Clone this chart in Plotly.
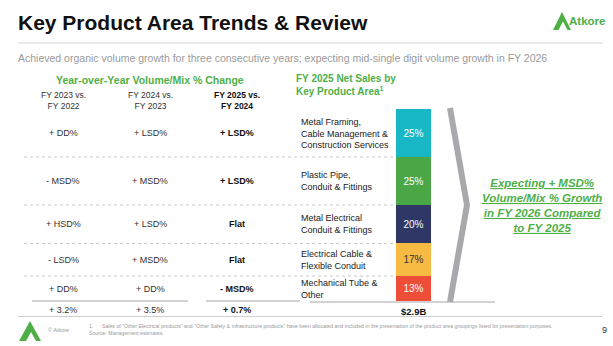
import plotly.graph_objects as go

# ---------------- data ----------------
areas = [
    "Metal Framing,<br>Cable Management &<br>Construction Services",
    "Plastic Pipe,<br>Conduit & Fittings",
    "Metal Electrical<br>Conduit & Fittings",
    "Electrical Cable &<br>Flexible Conduit",
    "Mechanical Tube &<br>Other",
]
shares = [25, 25, 20, 17, 13]
colors = ["#17B7C6", "#4BA646", "#2E3766", "#F7BA43", "#EE4D37"]
label_colors = ["white", "white", "white", "#333333", "white"]

col_headers = ["FY 2023 vs.<br>FY 2022", "FY 2024 vs.<br>FY 2023", "<b>FY 2025 vs.<br>FY 2024</b>"]
fy23 = ["+ DD%", "- MSD%", "+ HSD%", "- LSD%", "+ DD%"]
fy24 = ["+ LSD%", "+ MSD%", "+ LSD%", "+ MSD%", "+ DD%"]
fy25 = ["+ LSD%", "+ LSD%", "Flat", "Flat", "- MSD%"]
totals = ["+ 3.2%", "+ 3.5%", "<b>+ 0.7%</b>"]
total_sales = "$2.9B"

GREEN = "#4FAF47"
FONT = "Arial, Liberation Sans, sans-serif"
W, H = 613, 346

fig = go.Figure()

# stacked bar on its own axes
for name, s, c, lc in zip(areas, shares, colors, label_colors):
    fig.add_trace(go.Bar(
        x=[0], y=[s], xaxis="x2", yaxis="y2", width=1,
        marker=dict(color=c, line=dict(width=0)),
        text=[f"{s}%"], textposition="inside", insidetextanchor="middle",
        textangle=0, textfont=dict(color=lc, size=10, family=FONT),
        showlegend=False, hoverinfo="skip", name=name,
    ))

bar_top, bar_bot = 109, 301
fig.update_layout(
    width=W, height=H, margin=dict(l=0, r=0, t=0, b=0),
    paper_bgcolor="white", plot_bgcolor="rgba(0,0,0,0)",
    barmode="stack", bargap=0,
    xaxis=dict(range=[0, W], visible=False, domain=[0, 1], fixedrange=True),
    yaxis=dict(range=[H, 0], visible=False, domain=[0, 1], fixedrange=True),
    xaxis2=dict(range=[-0.5, 0.5], visible=False, domain=[396 / W, 431 / W], anchor="y2"),
    yaxis2=dict(range=[100, 0], visible=False,
                domain=[(H - bar_bot) / H, (H - bar_top) / H], anchor="x2"),
    font=dict(family=FONT),
)

ann = []
shapes = []

def T(x, y, text, size=9, color="#333333", xanchor="center", yref="y", yanchor="middle", align="center", **kw):
    ann.append(dict(x=x, y=y, xref="x", yref=yref, text=text, showarrow=False,
                    font=dict(size=size, color=color, family=FONT),
                    xanchor=xanchor, yanchor=yanchor, align=align, **kw))

# title & subtitle
T(16, 22, "<b>Key Product Area Trends & Review</b>", size=21, color="#111111", xanchor="left")
T(16, 58, "Achieved organic volume growth for three consecutive years; expecting mid-single digit volume growth in FY 2026",
  size=10.5, color="#9A9A9A", xanchor="left")
shapes.append(dict(type="line", xref="x", yref="y", x0=18, x1=603, y0=43, y1=43,
                   line=dict(color="#D5D5D5", width=1)))

# logo top right
shapes.append(dict(type="path", xref="x", yref="y", path="M 553 30 L 562 12 L 571 30 Z",
                   fillcolor=GREEN, line=dict(width=0)))
shapes.append(dict(type="path", xref="x", yref="y", path="M 558.5 30 L 563 21.5 L 567.5 30 Z",
                   fillcolor="white", line=dict(width=0)))
T(607, 21, "<b>Atkore</b>", size=11.5, color=GREEN, xanchor="right")

# left table headers
col_x = [63, 150, 237]
T(150, 80, "<b>Year-over-Year Volume/Mix % Change</b>", size=10.5, color=GREEN)
for x, h in zip(col_x, col_headers):
    T(x, 100, h, size=8.5, color="#333333" if "<b>" not in h else "#111111")

# right header
T(294, 85, "<b>FY 2025 Net Sales by<br>Key Product Area<sup>1</sup></b>", size=10, color=GREEN,
  xanchor="left", align="left")

# rows
cum = 0
for i, s in enumerate(shares):
    yc = cum + s / 2
    T(col_x[0], yc, fy23[i], yref="y2")
    T(col_x[1], yc, fy24[i], yref="y2")
    T(col_x[2], yc, f"<b>{fy25[i]}</b>", yref="y2", color="#111111")
    T(299, yc, areas[i], yref="y2", xanchor="left", align="left", color="#222222")
    cum += s
    if i < len(shares) - 1:
        shapes.append(dict(type="line", xref="x", yref="y2", x0=24, x1=396, y0=cum, y1=cum,
                           line=dict(color="#C9C9C9", width=1, dash="dot")))

# totals
shapes.append(dict(type="line", xref="x", yref="y", x0=32, x1=188, y0=301, y1=301,
                   line=dict(color="#A5A5A5", width=1.2)))
shapes.append(dict(type="line", xref="x", yref="y", x0=206, x1=300, y0=301, y1=301,
                   line=dict(color="#A5A5A5", width=1.2)))
shapes.append(dict(type="line", xref="x", yref="y", x0=310, x1=495, y0=302, y1=302,
                   line=dict(color="#A5A5A5", width=1.2)))
for x, t in zip(col_x, totals):
    T(x, 310, t, color="#333333" if "<b>" not in t else "#111111")
T(413, 311, f"<b>{total_sales}</b>", size=9.5, color="#111111")
shapes.append(dict(type="line", xref="x", yref="y", x0=18, x1=602, y0=316.5, y1=316.5,
                   line=dict(color="#CFCFCF", width=1)))

# chevron
shapes.append(dict(type="path", xref="x", yref="y", path="M 450 108 L 467 205 L 450 302",
                   line=dict(color="#A7A9AC", width=6)))

# callout
T(542, 205,
  "<b><i><span style='text-decoration:underline'>Expecting + MSD%</span><br>"
  "<span style='text-decoration:underline'>Volume/Mix % Growth</span><br>"
  "<span style='text-decoration:underline'>in FY 2026 Compared</span><br>"
  "<span style='text-decoration:underline'>to FY 2025</span></i></b>",
  size=11.5, color=GREEN)

# footer
shapes.append(dict(type="path", xref="x", yref="y", path="M 19 341 L 30 321 L 41 341 Z",
                   fillcolor=GREEN, line=dict(width=0)))
shapes.append(dict(type="path", xref="x", yref="y", path="M 26 341 L 31 332 L 36 341 Z",
                   fillcolor="white", line=dict(width=0)))
T(46, 330, "© Atkore", size=5.5, color="#9A9A9A", xanchor="left")
T(87, 329.5,
  "1.      Sales of \"Other Electrical products\" and \"Other Safety & Infrastructure products\" have been allocated and included in the presentation of the product area groupings listed for presentation purposes.<br>Source: Management estimates.",
  size=5.2, color="#9A9A9A", xanchor="left", align="left")
T(604, 330, "9", size=9, color="#333333")

fig.update_layout(annotations=ann, shapes=shapes)
fig.write_html("out.html")
